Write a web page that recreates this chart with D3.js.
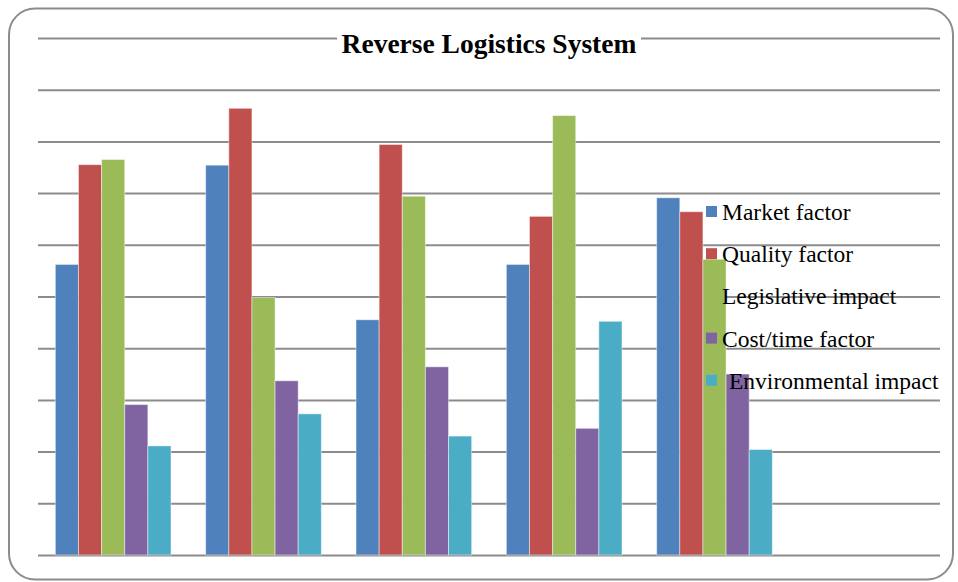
<!DOCTYPE html>
<html>
<head>
<meta charset="utf-8">
<script src="https://cdn.jsdelivr.net/npm/d3@7"></script>
<style>
  html, body { margin: 0; padding: 0; background: #fff; }
  svg { display: block; }
</style>
</head>
<body>
<div id="chart"></div>
<script>
const categories = ['1', '2', '3', '4', '5', '6'];
const seriesNames = ['Market factor', 'Quality factor', 'Legislative impact', 'Cost/time factor', 'Environmental impact'];
const marketFactor = [5.62, 7.54, 4.55, 5.62, 6.91];
const qualityFactor = [7.55, 8.64, 7.94, 6.55, 6.64];
const legislativeImpact = [7.65, 4.98, 6.94, 8.50, 5.72];
const costTimeFactor = [2.91, 3.37, 3.64, 2.45, 3.50];
const environmentalImpact = [2.11, 2.73, 2.30, 4.52, 2.04];
const yTicks = [0, 1, 2, 3, 4, 5, 6, 7, 8, 9, 10];

const colors = ['#4F81BD', '#C0504D', '#9BBB59', '#8064A2', '#4BACC6'];
const seriesValues = [marketFactor, qualityFactor, legislativeImpact, costTimeFactor, environmentalImpact];

const width = 958, height = 582;
const plot = { left: 38, right: 940, top: 38, bottom: 555 };

const svg = d3.select('#chart').append('svg')
  .attr('width', width)
  .attr('height', height);

// outer rounded frame
svg.append('rect')
  .attr('x', 9).attr('y', 8.5)
  .attr('width', 944).attr('height', 571)
  .attr('rx', 26).attr('ry', 26)
  .attr('fill', '#fff')
  .attr('stroke', '#8c8c8c')
  .attr('stroke-width', 2);

const x0 = d3.scaleBand().domain(categories).range([plot.left, plot.right]);
const bw = x0.bandwidth();
const barW = bw / (seriesNames.length + 1.5); // Excel style gap width 150%
const gap = bw - barW * seriesNames.length;
const x1 = d3.scaleBand().domain(seriesNames).range([gap / 2, bw - gap / 2]);

const y = d3.scaleLinear().domain([0, 10]).range([plot.bottom, plot.top]);

// gridlines
const grid = svg.append('g')
  .attr('transform', 'translate(' + plot.left + ',0)')
  .call(d3.axisLeft(y).tickValues(yTicks).tickSize(-(plot.right - plot.left)).tickFormat(''));
grid.select('.domain').remove();
grid.selectAll('.tick line')
  .attr('stroke', '#8c8c8c')
  .attr('stroke-width', 2);

// bars
const rows = categories.slice(0, marketFactor.length).map(function(c, i) {
  return { cat: c, values: seriesNames.map(function(s, j) { return { name: s, value: seriesValues[j][i], color: colors[j] }; }) };
});

const groups = svg.selectAll('.group').data(rows).enter().append('g')
  .attr('class', 'group')
  .attr('transform', function(d) { return 'translate(' + x0(d.cat) + ',0)'; });

groups.selectAll('rect').data(function(d) { return d.values; }).enter().append('rect')
  .attr('x', function(d) { return x1(d.name); })
  .attr('width', x1.bandwidth())
  .attr('y', function(d) { return y(d.value); })
  .attr('height', function(d) { return y(0) - y(d.value); })
  .attr('fill', function(d) { return d.color; })
  .attr('stroke', 'rgba(255,255,255,0.45)')
  .attr('stroke-width', 1);

// title with white box behind it
svg.append('rect')
  .attr('x', 337).attr('y', 30)
  .attr('width', 304).attr('height', 30)
  .attr('fill', '#fff');
svg.append('text')
  .attr('x', 489).attr('y', 53)
  .attr('text-anchor', 'middle')
  .attr('font-family', '"Liberation Serif", "Times New Roman", serif')
  .attr('font-weight', 'bold')
  .attr('font-size', 27.5)
  .attr('fill', '#000')
  .text('Reverse Logistics System');

// legend (sits over the bars, as in the original)
const legend = svg.append('g').attr('class', 'legend');
const items = legend.selectAll('g').data(seriesNames).enter().append('g')
  .attr('transform', function(d, i) { return 'translate(706,' + (220 + i * 42.2) + ')'; });

items.append('rect')
  .attr('x', 0).attr('y', -14)
  .attr('width', 11).attr('height', 11)
  .attr('fill', function(d, i) { return colors[i]; });

items.append('text')
  .attr('x', function(d, i) { return i === 4 ? 23 : 16; })
  .attr('y', 0)
  .attr('font-family', '"Liberation Serif", "Times New Roman", serif')
  .attr('font-size', 23.5)
  .attr('fill', '#000')
  .text(function(d) { return d; });
</script>
</body>
</html>
